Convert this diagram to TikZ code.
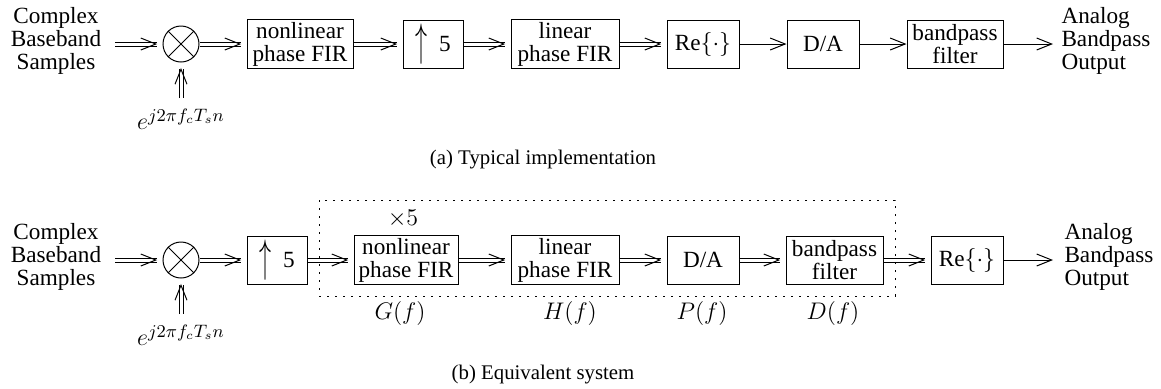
\documentclass[tikz,border=0pt]{standalone}
\usepackage{fontspec}
\setmainfont{Liberation Serif}
\usepackage{amsmath}
\usepackage{graphicx}
\usetikzlibrary{arrows.meta, positioning, decorations.markings}

\newcommand{\upfive}{\raisebox{-2pt}{\scalebox{1}[1.9]{$\uparrow$}}\ \ 5}

\begin{document}
\begin{tikzpicture}[x=0.5pt, y=-0.5pt, line width=0.5pt, font=\fontsize{11.6}{11.5}\selectfont]
\tikzstyle{block} = [rectangle, draw=black, minimum height=24pt, inner sep=1pt, align=center]
\tikzstyle{mixer} = [circle, draw=black, minimum size=18pt, inner sep=0pt]
\tikzstyle{label} = [align=center, inner sep=0pt]
\tikzstyle{arrow} = [-{Straight Barb[length=7.5pt,width=6pt]}]
\tikzstyle{dblarrow} = [double, double distance=1.5pt, shorten >=3pt,
  decoration={markings, mark=at position 1 with {\arrow{Straight Barb[length=7.5pt,width=6pt]}}},
  postaction={decorate}]
\tikzstyle{caption} = [font=\fontsize{10.4}{12}\selectfont]

\useasboundingbox (0,0) rectangle (1161,388);

% (a) typical implementation
\node (srcA) [label] at (56,41) {Complex\\Baseband\\Samples};
\coordinate (inA) at (115,44);
\node (mixA) [mixer] at (181,44) {};
\draw (mixA.north west) -- (mixA.south east) (mixA.north east) -- (mixA.south west);
\coordinate (expA) at (181,98);
\node (phA) [label, below=5pt of expA, font=\fontsize{13}{13}\selectfont] {$e^{j2\pi f_c T_s n}$};
\node (nlA) [block, minimum width=53pt] at (300,44) {nonlinear\\phase FIR};
\node (upA) [block, minimum width=30pt] at (433,44) {\upfive};
\node (linA) [block, minimum width=54pt] at (565,44) {linear\\phase FIR};
\node (reA) [block, minimum width=36pt] at (703,44) {Re$\{\cdot\}$};
\node (daA) [block, minimum width=36pt] at (823,44) {D/A};
\node (bpA) [block, minimum width=48pt] at (955,44) {bandpass\\filter};
\coordinate (endA) at (1053,44);
\node (outA) [label, align=left, anchor=west] at (1061,41) {Analog\\Bandpass\\Output};
\node (capA) [caption] at (543,160) {(a) Typical implementation};

\draw [dblarrow] (inA) -- (mixA);
\draw [dblarrow] (expA) -- (mixA);
\draw [dblarrow] (mixA) -- (nlA);
\draw [dblarrow] (nlA) -- (upA);
\draw [dblarrow] (upA) -- (linA);
\draw [dblarrow] (linA) -- (reA);
\draw [arrow] (reA) -- (daA);
\draw [arrow] (daA) -- (bpA);
\draw [arrow] (bpA) -- (endA);

% (b) equivalent system
\node (srcB) [label] at (56,257) {Complex\\Baseband\\Samples};
\coordinate (inB) at (115,260);
\node (mixB) [mixer] at (181,260) {};
\draw (mixB.north west) -- (mixB.south east) (mixB.north east) -- (mixB.south west);
\coordinate (expB) at (181,314);
\node (phB) [label, below=5pt of expB, font=\fontsize{13}{13}\selectfont] {$e^{j2\pi f_c T_s n}$};
\node (upB) [block, minimum width=30pt] at (277,260) {\upfive};
\node (nlB) [block, minimum width=52pt] at (406,260) {nonlinear\\phase FIR};
\node (linB) [block, minimum width=54pt] at (565,260) {linear\\phase FIR};
\node (daB) [block, minimum width=36pt] at (703,260) {D/A};
\node (bpB) [block, minimum width=48.5pt] at (834.5,260) {bandpass\\filter};
\node (reB) [block, minimum width=36pt] at (967,260) {Re$\{\cdot\}$};
\coordinate (endB) at (1053,260);
\node (outB) [label, align=left, anchor=west] at (1064,257) {Analog\\Bandpass\\Output};
\draw [dash pattern=on 0.8pt off 3.2pt] (319,200) rectangle (895,296);
\node (x5) [label] at (403,219) {$\times 5$};
\node (gB) [label] at (400,313) {$G(f)$};
\node (hB) [label] at (570,313) {$H(f)$};
\node (pB) [label] at (702,313) {$P(f)$};
\node (dB) [label] at (833,313) {$D(f)$};
\node (capB) [caption] at (543,375) {(b) Equivalent system};

\draw [dblarrow] (inB) -- (mixB);
\draw [dblarrow] (expB) -- (mixB);
\draw [dblarrow] (mixB) -- (upB);
\draw [dblarrow] (upB) -- (nlB);
\draw [dblarrow] (nlB) -- (linB);
\draw [dblarrow] (linB) -- (daB);
\draw [dblarrow] (daB) -- (bpB);
\draw [dblarrow] (bpB) -- (reB);
\draw [arrow] (reB) -- (endB);
\end{tikzpicture}
\end{document}
